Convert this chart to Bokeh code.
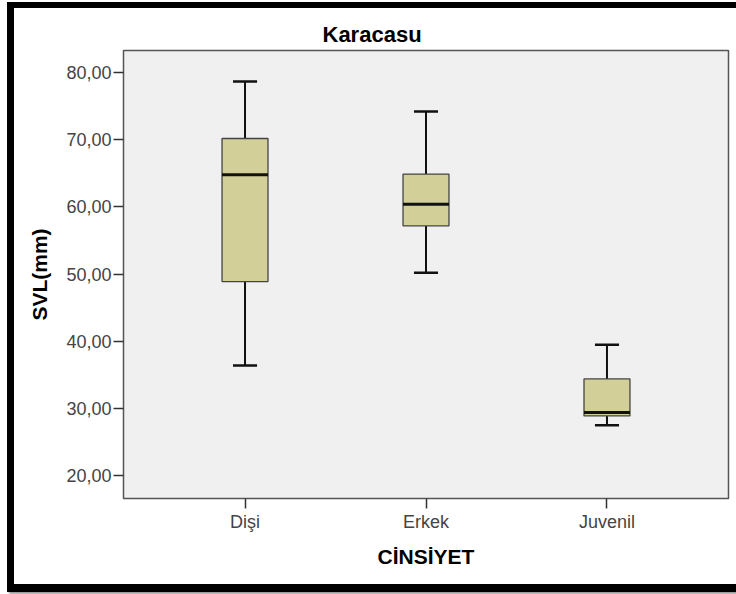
from bokeh.plotting import figure
from bokeh.models import FactorRange, Range1d, FixedTicker, ColumnDataSource
from bokeh.embed import file_html
from bokeh.resources import INLINE

# SVL (mm) summary per sex group, Karacasu sample
groups = ["Dişi", "Erkek", "Juvenil"]
whisker_low = [36.4, 50.2, 27.5]
q1 = [48.9, 57.2, 28.9]
median = [64.8, 60.4, 29.4]
q3 = [70.2, 64.9, 34.4]
whisker_high = [78.7, 74.2, 39.5]

y_ticks = [20, 30, 40, 50, 60, 70, 80]
y_tick_labels = ["20,00", "30,00", "40,00", "50,00", "60,00", "70,00", "80,00"]

FONT = "Liberation Sans"
BOX_FILL = "#D3CF98"

src = ColumnDataSource(dict(
    grp=groups, lo=whisker_low, q1=q1, med=median, q3=q3, hi=whisker_high,
))

p = figure(
    x_range=FactorRange(factors=groups, range_padding=0.1143),
    y_range=Range1d(16.6, 83.3),
    width=722, height=576,
    output_backend="svg", toolbar_location=None,
    min_border_left=109, min_border_right=8,
    min_border_top=42, min_border_bottom=86,
    title="Karacasu",
)
# heavy black frame drawn as an outer shadow, so the canvas size is untouched
p.styles = {
    "margin-left": "14px",
    "margin-top": "8px",
    "box-shadow": "0px 1px 0px 7px black, 2px 3px 2px 7px #999",
}

p.background_fill_color = "#F0F0F0"
p.border_fill_color = "white"
p.outline_line_color = "#555555"
p.outline_line_width = 1.5
p.xgrid.visible = False
p.ygrid.visible = False

# title
p.title.text_font = FONT
p.title.text_font_size = "22px"
p.title.text_font_style = "bold"
p.title.text_color = "black"
p.title.align = "left"
p.title.offset = 199
p.title.standoff = 8

# whiskers
p.segment(x0="grp", y0="lo", x1="grp", y1="q1", source=src,
          line_color="#111111", line_width=2)
p.segment(x0="grp", y0="q3", x1="grp", y1="hi", source=src,
          line_color="#111111", line_width=2)
# whisker caps
p.rect(x="grp", y="lo", width=0.133, height=2.5, height_units="screen",
       source=src, fill_color="#111111", line_color=None)
p.rect(x="grp", y="hi", width=0.133, height=2.5, height_units="screen",
       source=src, fill_color="#111111", line_color=None)
# boxes
p.vbar(x="grp", bottom="q1", top="q3", width=0.254, source=src,
       fill_color=BOX_FILL, line_color="#444444", line_width=1.3)
# medians
p.rect(x="grp", y="med", width=0.254, height=3, height_units="screen",
       source=src, fill_color="#111111", line_color=None)

# axes
for ax in (p.xaxis[0], p.yaxis[0]):
    ax.axis_line_color = None
    ax.major_tick_line_color = "#333333"
    ax.major_tick_line_width = 1.5
    ax.major_tick_in = 0
    ax.major_tick_out = 10
    ax.minor_tick_line_color = None
    ax.major_label_text_font = FONT
    ax.major_label_text_font_size = "18px"
    ax.major_label_text_color = "#444444"
    ax.axis_label_text_font = FONT
    ax.axis_label_text_font_size = "21px"
    ax.axis_label_text_font_style = "bold"
    ax.axis_label_text_color = "black"

p.yaxis.ticker = FixedTicker(ticks=y_ticks)
p.yaxis.major_label_overrides = dict(zip(y_ticks, y_tick_labels))
p.yaxis.major_label_standoff = 2
p.yaxis.axis_label = "SVL(mm)"
p.yaxis.axis_label_standoff = 12

p.xaxis.major_label_standoff = 3
p.xaxis.axis_label = "CİNSİYET"
p.xaxis.axis_label_standoff = 10

open("out.html", "w").write(file_html(p, INLINE))
